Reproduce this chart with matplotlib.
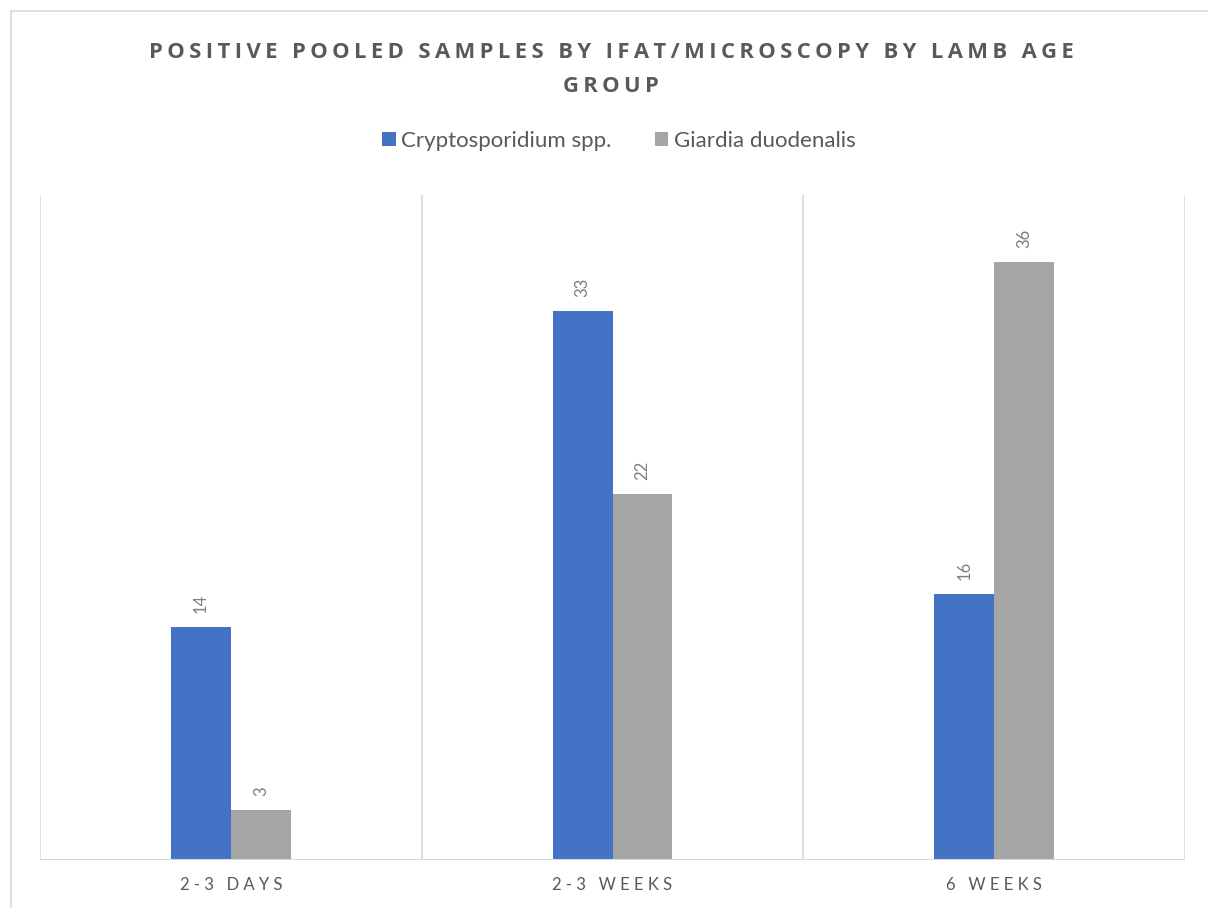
import numpy as np
import matplotlib.pyplot as plt
from matplotlib.patches import Rectangle

# data
groups = ['2-3 DAYS', '2-3 WEEKS', '6 WEEKS']
series = ['Cryptosporidium spp.', 'Giardia duodenalis']
crypto = [14, 33, 16]
giardia = [3, 22, 36]
colors = ['#4472c4', '#a5a5a5']

plt.rcParams['font.family'] = ['Lato', 'DejaVu Sans']

def spaced(s, sep=' '):
    return sep.join(s)

fig = plt.figure(figsize=(12.08, 9.08), dpi=100)
fig.patches.append(Rectangle((11/1208, -0.2), 1.2, 1.2 - 11/908, transform=fig.transFigure,
                             fill=False, edgecolor='#d9d9d9', lw=1.2))

ax = fig.add_axes([40/1208, 48/908, (1185-40)/1208, (860-195)/908])
x = np.arange(len(groups))
w = 0.157
vals = [crypto, giardia]
for i, (name, v) in enumerate(zip(series, vals)):
    bars = ax.bar(x + (i - 0.5) * w, v, w, color=colors[i], label=name, zorder=3)
    for b, val in zip(bars, v):
        ax.annotate(str(val), (b.get_x() + b.get_width()/2, b.get_height()),
                    xytext=(0, 10), textcoords='offset points', rotation=90,
                    ha='center', va='bottom', fontsize=12, color='#7f7f7f')

ax.set_xlim(-0.5, 2.5)
ax.set_ylim(0, 40)
for s in ax.spines.values():
    s.set_visible(False)
ax.axhline(0, color='#d9d9d9', lw=1.5, zorder=4)
for xv in np.arange(-0.5, 3, 1):
    ax.axvline(xv, color='#d9d9d9', lw=1.2, zorder=1)
ax.set_yticks([])
ax.set_xticks(x)
ax.set_xticklabels([spaced(g) for g in groups], fontsize=12, color='#595959')
ax.tick_params(axis='x', length=0, pad=12)

title_font = ['Open Sans', 'DejaVu Sans']
fig.text(611/1208, 1 - 52/908, spaced('POSITIVE POOLED SAMPLES BY IFAT/MICROSCOPY BY LAMB AGE', '\u2009'),
         ha='center', va='center', fontsize=15.8, fontweight='bold', color='#595959',
         family=title_font)
fig.text(611/1208, 1 - 86/908, spaced('GROUP', '\u2009'),
         ha='center', va='center', fontsize=15.8, fontweight='bold', color='#595959',
         family=title_font)

fig.legend(loc='center', bbox_to_anchor=(619/1208, 1 - 141/908), ncol=2, frameon=False,
           fontsize=16, labelcolor='#595959', handlelength=0.6, handleheight=0.6,
           handletextpad=0.25, columnspacing=1.95)

fig.savefig('out.png', dpi=100)
